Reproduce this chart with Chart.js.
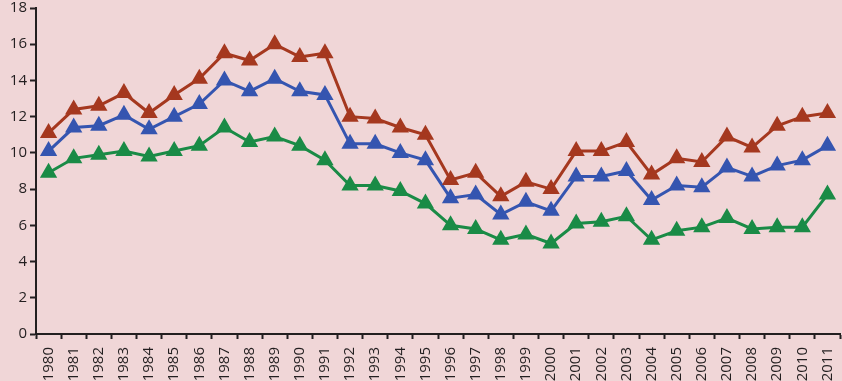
<!DOCTYPE html>
<html>
<head>
<meta charset="utf-8">
<script src="https://cdn.jsdelivr.net/npm/chart.js@4"></script>
<style>
  html, body { margin: 0; padding: 0; background: #f0d6d7; overflow: hidden; }
  #wrap { position: absolute; left: 0; top: -2px; width: 850px; height: 383px; }
</style>
</head>
<body>
<div id="wrap"><canvas id="chart"></canvas></div>
<script>
const years = ['1980','1981','1982','1983','1984','1985','1986','1987','1988','1989','1990','1991',
  '1992','1993','1994','1995','1996','1997','1998','1999','2000','2001','2002','2003','2004','2005',
  '2006','2007','2008','2009','2010','2011'];

const redSeries = [11.1, 12.4, 12.6, 13.3, 12.2, 13.2, 14.1, 15.5, 15.1, 16.0, 15.3, 15.5,
  12.0, 11.9, 11.4, 11.0, 8.5, 8.9, 7.6, 8.4, 8.0, 10.1, 10.1, 10.6, 8.8, 9.7,
  9.5, 10.9, 10.3, 11.5, 12.0, 12.2];
const blueSeries = [10.1, 11.4, 11.5, 12.1, 11.3, 12.0, 12.7, 14.0, 13.4, 14.1, 13.4, 13.2,
  10.5, 10.5, 10.0, 9.6, 7.5, 7.7, 6.6, 7.3, 6.8, 8.7, 8.7, 9.0, 7.4, 8.2,
  8.1, 9.2, 8.7, 9.3, 9.6, 10.4];
const greenSeries = [8.9, 9.7, 9.9, 10.1, 9.8, 10.1, 10.4, 11.4, 10.6, 10.9, 10.4, 9.6,
  8.2, 8.2, 7.9, 7.2, 6.0, 5.8, 5.2, 5.5, 5.0, 6.1, 6.2, 6.5, 5.2, 5.7,
  5.9, 6.4, 5.8, 5.9, 5.9, 7.7];

const axisColor = '#231f20';

function series(data, color) {
  return {
    data: data,
    borderColor: color,
    backgroundColor: color,
    borderWidth: 3,
    pointStyle: 'triangle',
    pointRadius: 7,
    pointHoverRadius: 7,
    tension: 0
  };
}

new Chart(document.getElementById('chart'), {
  type: 'line',
  data: {
    labels: years,
    datasets: [
      series(redSeries, '#a5381f'),
      series(blueSeries, '#3555b0'),
      series(greenSeries, '#1a8b46')
    ]
  },
  options: {
    responsive: true,
    maintainAspectRatio: false,
    animation: false,
    layout: { padding: 0 },
    plugins: { legend: { display: false }, tooltip: { enabled: false } },
    scales: {
      x: {
        offset: true,
        grid: { offset: true, drawOnChartArea: false, color: axisColor, tickLength: 5, tickWidth: 2 },
        border: { color: axisColor, width: 2 },
        ticks: {
          color: axisColor, maxRotation: 90, minRotation: 90, autoSkip: false,
          padding: 8, font: { family: 'Open Sans', size: 15 }
        },
        afterFit: s => { s.height = 47; s.paddingLeft = 0; s.paddingRight = 0; }
      },
      y: {
        min: 0, max: 18,
        grid: { drawOnChartArea: false, color: axisColor, tickLength: 6, tickWidth: 2 },
        border: { color: axisColor, width: 2 },
        ticks: { stepSize: 2, color: axisColor, padding: 3, font: { family: 'Open Sans', size: 15 } },
        afterFit: s => { s.width = 36; s.paddingTop = 0; s.paddingBottom = 0; }
      }
    }
  }
});
</script>
</body>
</html>
